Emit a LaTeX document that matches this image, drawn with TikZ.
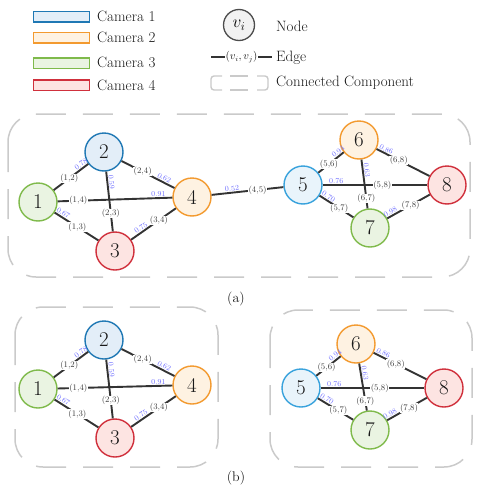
\documentclass[tikz,border=0pt]{standalone}
\definecolor{bluec}{HTML}{1F78B4}
\definecolor{bluec2}{HTML}{38A2DC}
\definecolor{bluef}{HTML}{E3EEF8}
\definecolor{bluef2}{HTML}{E9F4FB}
\definecolor{orac}{HTML}{F39A2F}
\definecolor{oraf}{HTML}{FEF2E2}
\definecolor{grec}{HTML}{7FBA4B}
\definecolor{gref}{HTML}{EAF4E2}
\definecolor{redc}{HTML}{D0303C}
\definecolor{redf}{HTML}{FDE4E2}
\definecolor{edgec}{HTML}{333333}
\definecolor{labc}{HTML}{3A3A3A}
\definecolor{wc}{HTML}{7070FF}
\definecolor{compc}{HTML}{CACACA}
\begin{document}
\begin{tikzpicture}[x=1pt,y=-1pt,
  cam/.style={circle, line width=1.4pt, minimum size=38pt, inner sep=0pt, font=\fontsize{21}{21}\selectfont, text=black!90},
  cA/.style={cam, draw=bluec, fill=bluef},
  cAA/.style={cam, draw=bluec2, fill=bluef2},
  cB/.style={cam, draw=orac, fill=oraf},
  cC/.style={cam, draw=grec, fill=gref},
  cD/.style={cam, draw=redc, fill=redf},
  edge/.style={draw=edgec, line width=1.9pt},
  elab/.style={fill=white, inner sep=0.4pt, font=\fontsize{8.5}{8.5}\selectfont, text=labc},
  wlab/.style={sloped, above, inner sep=0.6pt, font=\fontsize{7.5}{7.5}\selectfont, text=wc},
  comp/.style={draw=compc, line width=1.5pt, rounded corners=28pt, dash pattern=on 30pt off 17pt},
  legrect/.style={rectangle, line width=1.5pt, minimum width=56pt, minimum height=10.5pt, inner sep=0pt},
  legtext/.style={anchor=base west, inner sep=0pt, font=\fontsize{15}{15}\selectfont, text=black!90},
  legdash/.style={draw=compc, line width=1.4pt}
]
\useasboundingbox (0,0) rectangle (481,490);

% ---------- legend ----------
\node[legrect, draw=bluec, fill=bluef] (lr1) at (61.5,16.5) {};
\node[legrect, draw=orac, fill=oraf] (lr2) at (61.5,37.8) {};
\node[legrect, draw=grec, fill=gref] (lr3) at (61.5,63) {};
\node[legrect, draw=redc, fill=redf] (lr4) at (61.5,85) {};
\node[legtext] (lt1) at (97,21.3) {Camera 1};
\node[legtext] (lt2) at (97,42.8) {Camera 2};
\node[legtext] (lt3) at (97,67.8) {Camera 3};
\node[legtext] (lt4) at (97,90.3) {Camera 4};

\node[circle, draw=black!70, fill=black!5, line width=1.3pt, minimum size=31pt, inner sep=0pt, font=\fontsize{17}{17}\selectfont] (lnode) at (239,25) {$v_i$};
\node[legtext] (ltn) at (276,31) {Node};
\coordinate (le1) at (211,57.3);
\coordinate (le2) at (272,57.3);
\draw[edge, line width=2.2pt] (le1) -- node[fill=white, inner sep=0.3pt, font=\fontsize{10.5}{10.5}\selectfont, text=black!90] (lel) {$(v_i,v_j)$} (le2);
\node[legtext] (lte) at (276,61.2) {Edge};
\draw[legdash, rounded corners=3pt] (222,76) -- (211,76) -- (211,90) -- (222,90);
\draw[legdash] (230,76) -- (248,76) (230,90) -- (248,90);
\draw[legdash, rounded corners=3pt] (257,76) -- (268,76) -- (268,90) -- (257,90);
\node[legtext] (ltc) at (276,86.5) {Connected Component};

% ---------- components ----------
\draw[comp] (8,114) rectangle (470,277);
\draw[comp] (15,307) rectangle (218,467);
\draw[comp] (270,310) rectangle (472,467);

% ---------- nodes (a) ----------
\node[cC]  (a1) at (38,202) {1};
\node[cA]  (a2) at (104,152) {2};
\node[cD]  (a3) at (115,251) {3};
\node[cB]  (a4) at (192,197) {4};
\node[cAA] (a5) at (303,185) {5};
\node[cB]  (a6) at (359,140) {6};
\node[cC]  (a7) at (370,228) {7};
\node[cD]  (a8) at (447,185) {8};

% ---------- nodes (b) ----------
\node[cC]  (b1) at (38,389) {1};
\node[cA]  (b2) at (104,340) {2};
\node[cD]  (b3) at (115,438) {3};
\node[cB]  (b4) at (192,385) {4};
\node[cAA] (b5) at (301,388) {5};
\node[cB]  (b6) at (356,344) {6};
\node[cC]  (b7) at (370,430) {7};
\node[cD]  (b8) at (444,388) {8};

% ---------- edges ----------
\foreach \p in {a,b}{
  \draw[edge] (\p1) -- node[elab,pos=.45]{(1,2)} node[wlab,pos=.86]{0.78} (\p2);
  \draw[edge] (\p1) -- node[elab,pos=.18]{(1,4)} node[wlab,pos=.88]{0.91} (\p4);
  \draw[edge] (\p1) -- node[elab,pos=.52]{(1,3)} node[wlab,pos=.15]{0.67} (\p3);
  \draw[edge] (\p2) -- node[elab,pos=.7]{(2,3)} node[wlab,pos=.18]{0.59} (\p3);
  \draw[edge] (\p2) -- node[elab,pos=.4]{(2,4)} node[wlab,pos=.77]{0.62} (\p4);
  \draw[edge] (\p3) -- node[elab,pos=.62]{(3,4)} node[wlab,pos=.27]{0.75} (\p4);
  \draw[edge] (\p5) -- node[elab,pos=.42]{(5,6)} node[wlab,pos=.88]{0.94} (\p6);
  \draw[edge] (\p5) -- node[elab,pos=.57]{(5,8)} node[wlab,pos=.13]{0.76} (\p8);
  \draw[edge] (\p5) -- node[elab,pos=.58]{(5,7)} node[wlab,pos=.2]{0.70} (\p7);
  \draw[edge] (\p6) -- node[elab,pos=.8]{(6,7)} node[wlab,pos=.22]{0.63} (\p7);
  \draw[edge] (\p6) -- node[elab,pos=.42]{(6,8)} node[wlab,pos=.15]{0.86} (\p8);
  \draw[edge] (\p7) -- node[elab,pos=.55]{(7,8)} node[wlab,pos=.12]{0.98} (\p8);
}
\draw[edge] (a4) -- node[elab,pos=.64]{(4,5)} node[wlab,pos=.29]{0.52} (a5);

% ---------- captions ----------
\node[font=\fontsize{14}{14}\selectfont, text=black!90] (capa) at (236,299) {(a)};
\node[font=\fontsize{14}{14}\selectfont, text=black!90] (capb) at (236,478) {(b)};
\end{tikzpicture}
\end{document}
